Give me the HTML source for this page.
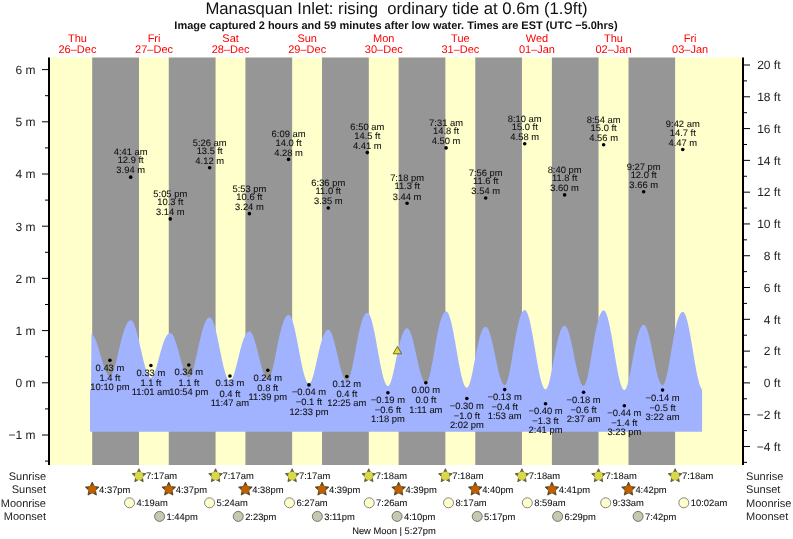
<!DOCTYPE html>
<html><head><meta charset="utf-8"><style>
html,body{margin:0;padding:0;background:#fff;}
svg{display:block;will-change:transform;}
text{font-family:"Liberation Sans",sans-serif;fill:#222;text-rendering:geometricPrecision;}
.title{font-size:16.7px;fill:#111;}
.sub{font-size:11px;font-weight:bold;fill:#111;}
.ax{font-size:12px;fill:#222;}
.day{font-size:11px;fill:#FF0000;}
.tl{font-size:9.4px;fill:#111;stroke:#111;stroke-width:0.08px;}
.rl{font-size:11px;fill:#222;}
.bt{font-size:9.4px;fill:#111;stroke:#111;stroke-width:0.08px;}
</style></head><body>
<svg width="793" height="539" viewBox="0 0 793 539">
<text x="396.5" y="14.2" text-anchor="middle" class="title">Manasquan Inlet: rising  ordinary tide at 0.6m (1.9ft)</text>
<text x="396" y="28.5" text-anchor="middle" class="sub">Image captured 2 hours and 59 minutes after low water. Times are EST (UTC −5.0hrs)</text>
<rect x="50.0" y="57.5" width="692.0" height="407.5" fill="#FFFFCC"/>
<rect x="92.20" y="57.5" width="46.80" height="407.5" fill="#969696"/>
<rect x="168.78" y="57.5" width="46.80" height="407.5" fill="#969696"/>
<rect x="245.41" y="57.5" width="46.75" height="407.5" fill="#969696"/>
<rect x="322.04" y="57.5" width="46.75" height="407.5" fill="#969696"/>
<rect x="398.62" y="57.5" width="46.75" height="407.5" fill="#969696"/>
<rect x="475.26" y="57.5" width="46.69" height="407.5" fill="#969696"/>
<rect x="551.89" y="57.5" width="46.64" height="407.5" fill="#969696"/>
<rect x="628.52" y="57.5" width="46.59" height="407.5" fill="#969696"/>
<path d="M90.00,431.80 L90.00,390.16 L90.50,390.16 L91.00,390.16 L91.50,334.03 L92.00,334.24 L92.50,334.59 L93.00,335.09 L93.50,335.72 L94.00,336.49 L94.50,337.39 L95.00,338.40 L95.50,339.54 L96.00,340.78 L96.50,342.12 L97.00,343.55 L97.50,345.05 L98.00,346.63 L98.50,348.27 L99.00,349.95 L99.50,351.67 L100.00,353.41 L100.50,355.17 L101.00,356.92 L101.50,358.66 L102.00,360.37 L102.50,362.05 L103.00,363.68 L103.50,365.25 L104.00,366.75 L104.50,368.17 L105.00,369.50 L105.50,370.73 L106.00,371.85 L106.50,372.85 L107.00,373.73 L107.50,374.48 L108.00,375.10 L108.50,375.58 L109.00,375.91 L109.50,376.11 L110.00,376.15 L110.50,376.01 L111.00,375.65 L111.50,375.08 L112.00,374.32 L112.50,373.36 L113.00,372.21 L113.50,370.90 L114.00,369.42 L114.50,367.80 L115.00,366.05 L115.50,364.19 L116.00,362.23 L116.50,360.20 L117.00,358.10 L117.50,355.96 L118.00,353.79 L118.50,351.60 L119.00,349.42 L119.50,347.26 L120.00,345.13 L120.50,343.04 L121.00,341.00 L121.50,339.03 L122.00,337.13 L122.50,335.31 L123.00,333.58 L123.50,331.94 L124.00,330.40 L124.50,328.96 L125.00,327.63 L125.50,326.40 L126.00,325.28 L126.50,324.28 L127.00,323.38 L127.50,322.60 L128.00,321.93 L128.50,321.37 L129.00,320.93 L129.50,320.60 L130.00,320.39 L130.50,320.28 L131.00,320.31 L131.50,320.50 L132.00,320.86 L132.50,321.39 L133.00,322.09 L133.50,322.95 L134.00,323.97 L134.50,325.14 L135.00,326.45 L135.50,327.90 L136.00,329.48 L136.50,331.18 L137.00,332.98 L137.50,334.88 L138.00,336.87 L138.50,338.92 L139.00,341.04 L139.50,343.21 L140.00,345.42 L140.50,347.64 L141.00,349.87 L141.50,352.10 L142.00,354.31 L142.50,356.49 L143.00,358.62 L143.50,360.69 L144.00,362.70 L144.50,364.62 L145.00,366.44 L145.50,368.16 L146.00,369.77 L146.50,371.25 L147.00,372.60 L147.50,373.80 L148.00,374.85 L148.50,375.75 L149.00,376.49 L149.50,377.06 L150.00,377.46 L150.50,377.69 L151.00,377.74 L151.50,377.61 L152.00,377.28 L152.50,376.76 L153.00,376.06 L153.50,375.17 L154.00,374.13 L154.50,372.93 L155.00,371.59 L155.50,370.12 L156.00,368.55 L156.50,366.88 L157.00,365.14 L157.50,363.34 L158.00,361.49 L158.50,359.63 L159.00,357.75 L159.50,355.88 L160.00,354.02 L160.50,352.20 L161.00,350.43 L161.50,348.70 L162.00,347.04 L162.50,345.46 L163.00,343.95 L163.50,342.53 L164.00,341.19 L164.50,339.95 L165.00,338.81 L165.50,337.77 L166.00,336.82 L166.50,335.98 L167.00,335.25 L167.50,334.62 L168.00,334.09 L168.50,333.67 L169.00,333.35 L169.50,333.13 L170.00,333.03 L170.50,333.03 L171.00,333.18 L171.50,333.49 L172.00,333.96 L172.50,334.58 L173.00,335.35 L173.50,336.26 L174.00,337.31 L174.50,338.49 L175.00,339.78 L175.50,341.19 L176.00,342.70 L176.50,344.30 L177.00,345.98 L177.50,347.72 L178.00,349.52 L178.50,351.36 L179.00,353.23 L179.50,355.12 L180.00,357.00 L180.50,358.87 L181.00,360.72 L181.50,362.53 L182.00,364.28 L182.50,365.98 L183.00,367.59 L183.50,369.12 L184.00,370.55 L184.50,371.87 L185.00,373.07 L185.50,374.14 L186.00,375.08 L186.50,375.88 L187.00,376.53 L187.50,377.03 L188.00,377.37 L188.50,377.55 L189.00,377.57 L189.50,377.38 L190.00,376.96 L190.50,376.32 L191.00,375.47 L191.50,374.40 L192.00,373.15 L192.50,371.71 L193.00,370.10 L193.50,368.34 L194.00,366.44 L194.50,364.43 L195.00,362.31 L195.50,360.12 L196.00,357.86 L196.50,355.55 L197.00,353.22 L197.50,350.87 L198.00,348.53 L198.50,346.21 L199.00,343.93 L199.50,341.69 L200.00,339.51 L200.50,337.40 L201.00,335.36 L201.50,333.42 L202.00,331.57 L202.50,329.82 L203.00,328.17 L203.50,326.64 L204.00,325.21 L204.50,323.90 L205.00,322.71 L205.50,321.64 L206.00,320.69 L206.50,319.86 L207.00,319.15 L207.50,318.56 L208.00,318.09 L208.50,317.74 L209.00,317.52 L209.50,317.42 L210.00,317.45 L210.50,317.67 L211.00,318.08 L211.50,318.67 L212.00,319.45 L212.50,320.41 L213.00,321.54 L213.50,322.83 L214.00,324.29 L214.50,325.89 L215.00,327.63 L215.50,329.51 L216.00,331.50 L216.50,333.59 L217.00,335.78 L217.50,338.06 L218.00,340.39 L218.50,342.78 L219.00,345.21 L219.50,347.66 L220.00,350.13 L220.50,352.58 L221.00,355.02 L221.50,357.42 L222.00,359.77 L222.50,362.05 L223.00,364.26 L223.50,366.38 L224.00,368.40 L224.50,370.30 L225.00,372.07 L225.50,373.71 L226.00,375.20 L226.50,376.53 L227.00,377.69 L227.50,378.69 L228.00,379.51 L228.50,380.15 L229.00,380.60 L229.50,380.86 L230.00,380.93 L230.50,380.79 L231.00,380.44 L231.50,379.89 L232.00,379.12 L232.50,378.17 L233.00,377.03 L233.50,375.72 L234.00,374.26 L234.50,372.66 L235.00,370.94 L235.50,369.11 L236.00,367.20 L236.50,365.23 L237.00,363.21 L237.50,361.15 L238.00,359.09 L238.50,357.02 L239.00,354.98 L239.50,352.97 L240.00,351.01 L240.50,349.10 L241.00,347.26 L241.50,345.50 L242.00,343.82 L242.50,342.24 L243.00,340.75 L243.50,339.37 L244.00,338.09 L244.50,336.91 L245.00,335.85 L245.50,334.90 L246.00,334.07 L246.50,333.35 L247.00,332.74 L247.50,332.25 L248.00,331.87 L248.50,331.61 L249.00,331.46 L249.50,331.42 L250.00,331.54 L250.50,331.84 L251.00,332.30 L251.50,332.94 L252.00,333.73 L252.50,334.69 L253.00,335.79 L253.50,337.03 L254.00,338.41 L254.50,339.91 L255.00,341.53 L255.50,343.24 L256.00,345.04 L256.50,346.92 L257.00,348.85 L257.50,350.84 L258.00,352.85 L258.50,354.89 L259.00,356.93 L259.50,358.95 L260.00,360.95 L260.50,362.91 L261.00,364.81 L261.50,366.64 L262.00,368.39 L262.50,370.05 L263.00,371.60 L263.50,373.03 L264.00,374.33 L264.50,375.49 L265.00,376.50 L265.50,377.36 L266.00,378.06 L266.50,378.59 L267.00,378.96 L267.50,379.15 L268.00,379.16 L268.50,378.94 L269.00,378.47 L269.50,377.77 L270.00,376.83 L270.50,375.67 L271.00,374.31 L271.50,372.74 L272.00,371.00 L272.50,369.09 L273.00,367.04 L273.50,364.86 L274.00,362.58 L274.50,360.21 L275.00,357.78 L275.50,355.29 L276.00,352.78 L276.50,350.26 L277.00,347.75 L277.50,345.26 L278.00,342.82 L278.50,340.42 L279.00,338.09 L279.50,335.84 L280.00,333.67 L280.50,331.60 L281.00,329.63 L281.50,327.77 L282.00,326.02 L282.50,324.40 L283.00,322.90 L283.50,321.52 L284.00,320.27 L284.50,319.14 L285.00,318.15 L285.50,317.29 L286.00,316.56 L286.50,315.95 L287.00,315.48 L287.50,315.15 L288.00,314.94 L288.50,314.86 L289.00,314.95 L289.50,315.24 L290.00,315.72 L290.50,316.41 L291.00,317.29 L291.50,318.36 L292.00,319.62 L292.50,321.05 L293.00,322.64 L293.50,324.39 L294.00,326.29 L294.50,328.33 L295.00,330.49 L295.50,332.76 L296.00,335.12 L296.50,337.58 L297.00,340.10 L297.50,342.67 L298.00,345.28 L298.50,347.92 L299.00,350.56 L299.50,353.20 L300.00,355.81 L300.50,358.39 L301.00,360.91 L301.50,363.36 L302.00,365.73 L302.50,368.00 L303.00,370.16 L303.50,372.19 L304.00,374.09 L304.50,375.85 L305.00,377.44 L305.50,378.87 L306.00,380.13 L306.50,381.20 L307.00,382.08 L307.50,382.77 L308.00,383.26 L308.50,383.55 L309.00,383.64 L309.50,383.50 L310.00,383.12 L310.50,382.52 L311.00,381.68 L311.50,380.64 L312.00,379.39 L312.50,377.95 L313.00,376.34 L313.50,374.58 L314.00,372.68 L314.50,370.67 L315.00,368.57 L315.50,366.40 L316.00,364.17 L316.50,361.91 L317.00,359.64 L317.50,357.38 L318.00,355.13 L318.50,352.93 L319.00,350.78 L319.50,348.69 L320.00,346.68 L320.50,344.75 L321.00,342.93 L321.50,341.20 L322.00,339.58 L322.50,338.08 L323.00,336.69 L323.50,335.43 L324.00,334.29 L324.50,333.27 L325.00,332.38 L325.50,331.61 L326.00,330.97 L326.50,330.46 L327.00,330.08 L327.50,329.82 L328.00,329.69 L328.50,329.69 L329.00,329.87 L329.50,330.23 L330.00,330.77 L330.50,331.48 L331.00,332.37 L331.50,333.42 L332.00,334.63 L332.50,335.99 L333.00,337.49 L333.50,339.11 L334.00,340.86 L334.50,342.70 L335.00,344.64 L335.50,346.65 L336.00,348.73 L336.50,350.85 L337.00,353.00 L337.50,355.18 L338.00,357.35 L338.50,359.51 L339.00,361.64 L339.50,363.73 L340.00,365.75 L340.50,367.70 L341.00,369.57 L341.50,371.33 L342.00,372.98 L342.50,374.50 L343.00,375.88 L343.50,377.12 L344.00,378.20 L344.50,379.12 L345.00,379.87 L345.50,380.44 L346.00,380.84 L346.50,381.05 L347.00,381.07 L347.50,380.85 L348.00,380.35 L348.50,379.60 L349.00,378.59 L349.50,377.34 L350.00,375.86 L350.50,374.18 L351.00,372.29 L351.50,370.23 L352.00,368.01 L352.50,365.66 L353.00,363.19 L353.50,360.63 L354.00,358.01 L354.50,355.33 L355.00,352.63 L355.50,349.92 L356.00,347.22 L356.50,344.55 L357.00,341.93 L357.50,339.37 L358.00,336.88 L358.50,334.47 L359.00,332.17 L359.50,329.97 L360.00,327.89 L360.50,325.92 L361.00,324.08 L361.50,322.38 L362.00,320.81 L362.50,319.37 L363.00,318.07 L363.50,316.92 L364.00,315.91 L364.50,315.03 L365.00,314.30 L365.50,313.72 L366.00,313.28 L366.50,312.98 L367.00,312.82 L367.50,312.81 L368.00,313.00 L368.50,313.40 L369.00,314.01 L369.50,314.83 L370.00,315.84 L370.50,317.05 L371.00,318.45 L371.50,320.03 L372.00,321.77 L372.50,323.68 L373.00,325.74 L373.50,327.93 L374.00,330.25 L374.50,332.67 L375.00,335.20 L375.50,337.81 L376.00,340.48 L376.50,343.21 L377.00,345.97 L377.50,348.75 L378.00,351.54 L378.50,354.31 L379.00,357.06 L379.50,359.76 L380.00,362.40 L380.50,364.97 L381.00,367.44 L381.50,369.81 L382.00,372.07 L382.50,374.19 L383.00,376.17 L383.50,377.99 L384.00,379.65 L384.50,381.13 L385.00,382.43 L385.50,383.54 L386.00,384.45 L386.50,385.16 L387.00,385.65 L387.50,385.94 L388.00,386.02 L388.50,385.86 L389.00,385.44 L389.50,384.76 L390.00,383.84 L390.50,382.69 L391.00,381.32 L391.50,379.75 L392.00,377.99 L392.50,376.07 L393.00,374.00 L393.50,371.82 L394.00,369.53 L394.50,367.18 L395.00,364.76 L395.50,362.32 L396.00,359.87 L396.50,357.43 L397.00,355.01 L397.50,352.64 L398.00,350.33 L398.50,348.10 L399.00,345.95 L399.50,343.89 L400.00,341.95 L400.50,340.11 L401.00,338.40 L401.50,336.81 L402.00,335.35 L402.50,334.03 L403.00,332.83 L403.50,331.78 L404.00,330.86 L404.50,330.07 L405.00,329.43 L405.50,328.92 L406.00,328.56 L406.50,328.33 L407.00,328.24 L407.50,328.30 L408.00,328.56 L408.50,329.01 L409.00,329.64 L409.50,330.45 L410.00,331.44 L410.50,332.60 L411.00,333.92 L411.50,335.39 L412.00,337.01 L412.50,338.75 L413.00,340.61 L413.50,342.58 L414.00,344.64 L414.50,346.77 L415.00,348.97 L415.50,351.21 L416.00,353.49 L416.50,355.78 L417.00,358.06 L417.50,360.33 L418.00,362.57 L418.50,364.76 L419.00,366.89 L419.50,368.93 L420.00,370.89 L420.50,372.73 L421.00,374.46 L421.50,376.05 L422.00,377.51 L422.50,378.80 L423.00,379.94 L423.50,380.91 L424.00,381.70 L424.50,382.30 L425.00,382.72 L425.50,382.95 L426.00,382.99 L426.50,382.76 L427.00,382.24 L427.50,381.44 L428.00,380.37 L428.50,379.04 L429.00,377.47 L429.50,375.66 L430.00,373.65 L430.50,371.45 L431.00,369.08 L431.50,366.57 L432.00,363.93 L432.50,361.21 L433.00,358.41 L433.50,355.56 L434.00,352.68 L434.50,349.80 L435.00,346.94 L435.50,344.11 L436.00,341.33 L436.50,338.63 L437.00,336.00 L437.50,333.48 L438.00,331.05 L438.50,328.75 L439.00,326.57 L439.50,324.52 L440.00,322.61 L440.50,320.85 L441.00,319.22 L441.50,317.75 L442.00,316.43 L442.50,315.26 L443.00,314.24 L443.50,313.38 L444.00,312.67 L444.50,312.11 L445.00,311.71 L445.50,311.46 L446.00,311.36 L446.50,311.44 L447.00,311.74 L447.50,312.26 L448.00,312.99 L448.50,313.93 L449.00,315.07 L449.50,316.40 L450.00,317.93 L450.50,319.64 L451.00,321.52 L451.50,323.55 L452.00,325.74 L452.50,328.06 L453.00,330.51 L453.50,333.06 L454.00,335.71 L454.50,338.44 L455.00,341.23 L455.50,344.06 L456.00,346.93 L456.50,349.82 L457.00,352.70 L457.50,355.56 L458.00,358.40 L458.50,361.18 L459.00,363.89 L459.50,366.52 L460.00,369.06 L460.50,371.48 L461.00,373.78 L461.50,375.94 L462.00,377.96 L462.50,379.80 L463.00,381.48 L463.50,382.98 L464.00,384.28 L464.50,385.39 L465.00,386.29 L465.50,386.98 L466.00,387.46 L466.50,387.72 L467.00,387.76 L467.50,387.54 L468.00,387.03 L468.50,386.25 L469.00,385.20 L469.50,383.90 L470.00,382.37 L470.50,380.62 L471.00,378.68 L471.50,376.56 L472.00,374.29 L472.50,371.90 L473.00,369.42 L473.50,366.85 L474.00,364.24 L474.50,361.61 L475.00,358.97 L475.50,356.36 L476.00,353.78 L476.50,351.26 L477.00,348.81 L477.50,346.45 L478.00,344.19 L478.50,342.05 L479.00,340.02 L479.50,338.12 L480.00,336.36 L480.50,334.74 L481.00,333.26 L481.50,331.92 L482.00,330.74 L482.50,329.70 L483.00,328.81 L483.50,328.08 L484.00,327.50 L484.50,327.06 L485.00,326.78 L485.50,326.65 L486.00,326.68 L486.50,326.91 L487.00,327.34 L487.50,327.96 L488.00,328.77 L488.50,329.77 L489.00,330.94 L489.50,332.29 L490.00,333.80 L490.50,335.46 L491.00,337.25 L491.50,339.18 L492.00,341.22 L492.50,343.36 L493.00,345.58 L493.50,347.88 L494.00,350.23 L494.50,352.62 L495.00,355.03 L495.50,357.44 L496.00,359.85 L496.50,362.22 L497.00,364.56 L497.50,366.83 L498.00,369.03 L498.50,371.14 L499.00,373.15 L499.50,375.04 L500.00,376.79 L500.50,378.40 L501.00,379.86 L501.50,381.15 L502.00,382.28 L502.50,383.22 L503.00,383.97 L503.50,384.53 L504.00,384.89 L504.50,385.06 L505.00,385.00 L505.50,384.64 L506.00,383.98 L506.50,383.02 L507.00,381.78 L507.50,380.27 L508.00,378.50 L508.50,376.50 L509.00,374.28 L509.50,371.88 L510.00,369.31 L510.50,366.59 L511.00,363.77 L511.50,360.85 L512.00,357.87 L512.50,354.85 L513.00,351.81 L513.50,348.78 L514.00,345.77 L514.50,342.81 L515.00,339.92 L515.50,337.11 L516.00,334.40 L516.50,331.79 L517.00,329.31 L517.50,326.95 L518.00,324.73 L518.50,322.66 L519.00,320.73 L519.50,318.96 L520.00,317.35 L520.50,315.89 L521.00,314.60 L521.50,313.46 L522.00,312.49 L522.50,311.69 L523.00,311.05 L523.50,310.57 L524.00,310.25 L524.50,310.10 L525.00,310.12 L525.50,310.37 L526.00,310.83 L526.50,311.52 L527.00,312.43 L527.50,313.55 L528.00,314.87 L528.50,316.40 L529.00,318.11 L529.50,320.01 L530.00,322.07 L530.50,324.30 L531.00,326.66 L531.50,329.16 L532.00,331.78 L532.50,334.50 L533.00,337.30 L533.50,340.18 L534.00,343.11 L534.50,346.08 L535.00,349.07 L535.50,352.06 L536.00,355.04 L536.50,357.99 L537.00,360.89 L537.50,363.73 L538.00,366.49 L538.50,369.15 L539.00,371.71 L539.50,374.13 L540.00,376.42 L540.50,378.56 L541.00,380.53 L541.50,382.32 L542.00,383.93 L542.50,385.35 L543.00,386.56 L543.50,387.56 L544.00,388.35 L544.50,388.91 L545.00,389.25 L545.50,389.37 L546.00,389.23 L546.50,388.80 L547.00,388.09 L547.50,387.11 L548.00,385.87 L548.50,384.39 L549.00,382.68 L549.50,380.76 L550.00,378.66 L550.50,376.39 L551.00,373.99 L551.50,371.48 L552.00,368.88 L552.50,366.22 L553.00,363.53 L553.50,360.82 L554.00,358.12 L554.50,355.44 L555.00,352.82 L555.50,350.26 L556.00,347.78 L556.50,345.40 L557.00,343.12 L557.50,340.96 L558.00,338.93 L558.50,337.02 L559.00,335.26 L559.50,333.63 L560.00,332.16 L560.50,330.83 L561.00,329.65 L561.50,328.63 L562.00,327.76 L562.50,327.04 L563.00,326.47 L563.50,326.06 L564.00,325.80 L564.50,325.69 L565.00,325.75 L565.50,326.02 L566.00,326.49 L566.50,327.17 L567.00,328.03 L567.50,329.09 L568.00,330.33 L568.50,331.74 L569.00,333.32 L569.50,335.05 L570.00,336.93 L570.50,338.93 L571.00,341.05 L571.50,343.27 L572.00,345.57 L572.50,347.95 L573.00,350.37 L573.50,352.84 L574.00,355.32 L574.50,357.81 L575.00,360.29 L575.50,362.73 L576.00,365.12 L576.50,367.46 L577.00,369.71 L577.50,371.86 L578.00,373.91 L578.50,375.83 L579.00,377.62 L579.50,379.25 L580.00,380.73 L580.50,382.03 L581.00,383.16 L581.50,384.09 L582.00,384.84 L582.50,385.38 L583.00,385.73 L583.50,385.86 L584.00,385.76 L584.50,385.35 L585.00,384.63 L585.50,383.62 L586.00,382.32 L586.50,380.76 L587.00,378.94 L587.50,376.89 L588.00,374.63 L588.50,372.18 L589.00,369.57 L589.50,366.82 L590.00,363.96 L590.50,361.01 L591.00,358.00 L591.50,354.95 L592.00,351.90 L592.50,348.85 L593.00,345.83 L593.50,342.87 L594.00,339.97 L594.50,337.15 L595.00,334.44 L595.50,331.84 L596.00,329.36 L596.50,327.01 L597.00,324.80 L597.50,322.73 L598.00,320.82 L598.50,319.06 L599.00,317.46 L599.50,316.02 L600.00,314.75 L600.50,313.64 L601.00,312.69 L601.50,311.90 L602.00,311.28 L602.50,310.83 L603.00,310.54 L603.50,310.41 L604.00,310.47 L604.50,310.75 L605.00,311.26 L605.50,311.99 L606.00,312.95 L606.50,314.12 L607.00,315.50 L607.50,317.07 L608.00,318.84 L608.50,320.79 L609.00,322.91 L609.50,325.19 L610.00,327.61 L610.50,330.16 L611.00,332.82 L611.50,335.59 L612.00,338.44 L612.50,341.36 L613.00,344.33 L613.50,347.33 L614.00,350.35 L614.50,353.37 L615.00,356.37 L615.50,359.33 L616.00,362.25 L616.50,365.09 L617.00,367.85 L617.50,370.50 L618.00,373.04 L618.50,375.45 L619.00,377.71 L619.50,379.81 L620.00,381.74 L620.50,383.49 L621.00,385.05 L621.50,386.41 L622.00,387.56 L622.50,388.50 L623.00,389.21 L623.50,389.70 L624.00,389.96 L624.50,389.99 L625.00,389.74 L625.50,389.21 L626.00,388.40 L626.50,387.32 L627.00,385.99 L627.50,384.42 L628.00,382.63 L628.50,380.64 L629.00,378.47 L629.50,376.14 L630.00,373.69 L630.50,371.13 L631.00,368.49 L631.50,365.79 L632.00,363.06 L632.50,360.33 L633.00,357.60 L633.50,354.90 L634.00,352.25 L634.50,349.68 L635.00,347.18 L635.50,344.78 L636.00,342.48 L636.50,340.30 L637.00,338.25 L637.50,336.33 L638.00,334.54 L638.50,332.90 L639.00,331.41 L639.50,330.06 L640.00,328.86 L640.50,327.82 L641.00,326.92 L641.50,326.18 L642.00,325.59 L642.50,325.16 L643.00,324.87 L643.50,324.74 L644.00,324.78 L644.50,325.02 L645.00,325.46 L645.50,326.11 L646.00,326.96 L646.50,328.01 L647.00,329.24 L647.50,330.65 L648.00,332.23 L648.50,333.96 L649.00,335.84 L649.50,337.86 L650.00,339.99 L650.50,342.22 L651.00,344.55 L651.50,346.94 L652.00,349.39 L652.50,351.88 L653.00,354.39 L653.50,356.91 L654.00,359.41 L654.50,361.88 L655.00,364.31 L655.50,366.67 L656.00,368.94 L656.50,371.13 L657.00,373.20 L657.50,375.14 L658.00,376.94 L658.50,378.60 L659.00,380.09 L659.50,381.40 L660.00,382.53 L660.50,383.48 L661.00,384.22 L661.50,384.76 L662.00,385.10 L662.50,385.23 L663.00,385.11 L663.50,384.70 L664.00,384.00 L664.50,383.02 L665.00,381.76 L665.50,380.25 L666.00,378.49 L666.50,376.52 L667.00,374.34 L667.50,371.98 L668.00,369.46 L668.50,366.81 L669.00,364.05 L669.50,361.21 L670.00,358.31 L670.50,355.37 L671.00,352.42 L671.50,349.48 L672.00,346.57 L672.50,343.70 L673.00,340.89 L673.50,338.17 L674.00,335.54 L674.50,333.01 L675.00,330.60 L675.50,328.32 L676.00,326.16 L676.50,324.15 L677.00,322.28 L677.50,320.55 L678.00,318.98 L678.50,317.57 L679.00,316.30 L679.50,315.20 L680.00,314.25 L680.50,313.45 L681.00,312.82 L681.50,312.34 L682.00,312.02 L682.50,311.86 L683.00,311.86 L683.50,312.09 L684.00,312.55 L684.50,313.23 L685.00,314.14 L685.50,315.27 L686.00,316.61 L686.50,318.16 L687.00,319.90 L687.50,321.83 L688.00,323.93 L688.50,326.19 L689.00,328.60 L689.50,331.14 L690.00,333.80 L690.50,336.56 L691.00,339.41 L691.50,342.32 L692.00,345.29 L692.50,348.29 L693.00,351.31 L693.50,354.33 L694.00,357.33 L694.50,360.28 L695.00,363.19 L695.50,366.02 L696.00,368.76 L696.50,371.40 L697.00,373.91 L697.50,376.29 L698.00,378.52 L698.50,380.59 L699.00,382.47 L699.50,384.18 L700.00,385.68 L700.50,386.98 L701.00,388.06 L701.50,388.93 L702.00,389.57 L702.10,389.67 L702.10,431.80 Z" fill="#A1B2FF"/>
<line x1="49" y1="57.5" x2="49" y2="465.0" stroke="#000" stroke-width="2"/>
<line x1="743" y1="57.5" x2="743" y2="465.0" stroke="#000" stroke-width="2"/>
<line x1="42" y1="435.00" x2="48" y2="435.00" stroke="#000" stroke-width="1"/>
<line x1="42" y1="382.80" x2="48" y2="382.80" stroke="#000" stroke-width="1"/>
<line x1="42" y1="330.60" x2="48" y2="330.60" stroke="#000" stroke-width="1"/>
<line x1="42" y1="278.40" x2="48" y2="278.40" stroke="#000" stroke-width="1"/>
<line x1="42" y1="226.20" x2="48" y2="226.20" stroke="#000" stroke-width="1"/>
<line x1="42" y1="174.00" x2="48" y2="174.00" stroke="#000" stroke-width="1"/>
<line x1="42" y1="121.80" x2="48" y2="121.80" stroke="#000" stroke-width="1"/>
<line x1="42" y1="69.60" x2="48" y2="69.60" stroke="#000" stroke-width="1"/>
<line x1="45" y1="461.10" x2="48" y2="461.10" stroke="#000" stroke-width="1"/>
<line x1="45" y1="408.90" x2="48" y2="408.90" stroke="#000" stroke-width="1"/>
<line x1="45" y1="356.70" x2="48" y2="356.70" stroke="#000" stroke-width="1"/>
<line x1="45" y1="304.50" x2="48" y2="304.50" stroke="#000" stroke-width="1"/>
<line x1="45" y1="252.30" x2="48" y2="252.30" stroke="#000" stroke-width="1"/>
<line x1="45" y1="200.10" x2="48" y2="200.10" stroke="#000" stroke-width="1"/>
<line x1="45" y1="147.90" x2="48" y2="147.90" stroke="#000" stroke-width="1"/>
<line x1="45" y1="95.70" x2="48" y2="95.70" stroke="#000" stroke-width="1"/>
<line x1="744" y1="462.38" x2="747" y2="462.38" stroke="#000" stroke-width="1"/>
<line x1="744" y1="446.48" x2="750" y2="446.48" stroke="#000" stroke-width="1"/>
<line x1="744" y1="430.58" x2="747" y2="430.58" stroke="#000" stroke-width="1"/>
<line x1="744" y1="414.69" x2="750" y2="414.69" stroke="#000" stroke-width="1"/>
<line x1="744" y1="398.79" x2="747" y2="398.79" stroke="#000" stroke-width="1"/>
<line x1="744" y1="382.90" x2="750" y2="382.90" stroke="#000" stroke-width="1"/>
<line x1="744" y1="367.00" x2="747" y2="367.00" stroke="#000" stroke-width="1"/>
<line x1="744" y1="351.11" x2="750" y2="351.11" stroke="#000" stroke-width="1"/>
<line x1="744" y1="335.21" x2="747" y2="335.21" stroke="#000" stroke-width="1"/>
<line x1="744" y1="319.32" x2="750" y2="319.32" stroke="#000" stroke-width="1"/>
<line x1="744" y1="303.42" x2="747" y2="303.42" stroke="#000" stroke-width="1"/>
<line x1="744" y1="287.53" x2="750" y2="287.53" stroke="#000" stroke-width="1"/>
<line x1="744" y1="271.63" x2="747" y2="271.63" stroke="#000" stroke-width="1"/>
<line x1="744" y1="255.74" x2="750" y2="255.74" stroke="#000" stroke-width="1"/>
<line x1="744" y1="239.84" x2="747" y2="239.84" stroke="#000" stroke-width="1"/>
<line x1="744" y1="223.95" x2="750" y2="223.95" stroke="#000" stroke-width="1"/>
<line x1="744" y1="208.05" x2="747" y2="208.05" stroke="#000" stroke-width="1"/>
<line x1="744" y1="192.16" x2="750" y2="192.16" stroke="#000" stroke-width="1"/>
<line x1="744" y1="176.26" x2="747" y2="176.26" stroke="#000" stroke-width="1"/>
<line x1="744" y1="160.37" x2="750" y2="160.37" stroke="#000" stroke-width="1"/>
<line x1="744" y1="144.47" x2="747" y2="144.47" stroke="#000" stroke-width="1"/>
<line x1="744" y1="128.58" x2="750" y2="128.58" stroke="#000" stroke-width="1"/>
<line x1="744" y1="112.69" x2="747" y2="112.69" stroke="#000" stroke-width="1"/>
<line x1="744" y1="96.79" x2="750" y2="96.79" stroke="#000" stroke-width="1"/>
<line x1="744" y1="80.89" x2="747" y2="80.89" stroke="#000" stroke-width="1"/>
<line x1="744" y1="65.00" x2="750" y2="65.00" stroke="#000" stroke-width="1"/>
<circle cx="109.91" cy="360.35" r="1.8" fill="#000"/>
<circle cx="130.70" cy="177.13" r="1.8" fill="#000"/>
<circle cx="150.91" cy="365.57" r="1.8" fill="#000"/>
<circle cx="170.27" cy="218.89" r="1.8" fill="#000"/>
<circle cx="188.83" cy="365.05" r="1.8" fill="#000"/>
<circle cx="209.68" cy="167.74" r="1.8" fill="#000"/>
<circle cx="229.94" cy="376.01" r="1.8" fill="#000"/>
<circle cx="249.40" cy="213.67" r="1.8" fill="#000"/>
<circle cx="267.80" cy="370.27" r="1.8" fill="#000"/>
<circle cx="288.54" cy="159.38" r="1.8" fill="#000"/>
<circle cx="308.96" cy="384.89" r="1.8" fill="#000"/>
<circle cx="328.27" cy="207.93" r="1.8" fill="#000"/>
<circle cx="346.83" cy="376.54" r="1.8" fill="#000"/>
<circle cx="367.30" cy="152.60" r="1.8" fill="#000"/>
<circle cx="387.93" cy="392.72" r="1.8" fill="#000"/>
<circle cx="407.08" cy="203.23" r="1.8" fill="#000"/>
<circle cx="425.85" cy="382.80" r="1.8" fill="#000"/>
<circle cx="446.06" cy="147.90" r="1.8" fill="#000"/>
<circle cx="466.85" cy="398.46" r="1.8" fill="#000"/>
<circle cx="485.68" cy="198.01" r="1.8" fill="#000"/>
<circle cx="504.66" cy="389.59" r="1.8" fill="#000"/>
<circle cx="524.71" cy="143.72" r="1.8" fill="#000"/>
<circle cx="545.51" cy="403.68" r="1.8" fill="#000"/>
<circle cx="564.60" cy="194.88" r="1.8" fill="#000"/>
<circle cx="583.58" cy="392.20" r="1.8" fill="#000"/>
<circle cx="603.63" cy="144.77" r="1.8" fill="#000"/>
<circle cx="624.32" cy="405.77" r="1.8" fill="#000"/>
<circle cx="643.68" cy="191.75" r="1.8" fill="#000"/>
<circle cx="662.56" cy="390.11" r="1.8" fill="#000"/>
<circle cx="682.76" cy="149.47" r="1.8" fill="#000"/>
<text x="109.91" y="370.75" text-anchor="middle" class="tl">0.43 m</text>
<text x="109.91" y="380.95" text-anchor="middle" class="tl">1.4 ft</text>
<text x="109.91" y="390.05" text-anchor="middle" class="tl">10:10 pm</text>
<text x="130.70" y="155.01" text-anchor="middle" class="tl">4:41 am</text>
<text x="130.70" y="163.39" text-anchor="middle" class="tl">12.9 ft</text>
<text x="130.70" y="173.49" text-anchor="middle" class="tl">3.94 m</text>
<text x="150.91" y="375.97" text-anchor="middle" class="tl">0.33 m</text>
<text x="150.91" y="386.17" text-anchor="middle" class="tl">1.1 ft</text>
<text x="150.91" y="395.27" text-anchor="middle" class="tl">11:01 am</text>
<text x="170.27" y="196.77" text-anchor="middle" class="tl">5:05 pm</text>
<text x="170.27" y="205.15" text-anchor="middle" class="tl">10.3 ft</text>
<text x="170.27" y="215.25" text-anchor="middle" class="tl">3.14 m</text>
<text x="188.83" y="375.45" text-anchor="middle" class="tl">0.34 m</text>
<text x="188.83" y="385.65" text-anchor="middle" class="tl">1.1 ft</text>
<text x="188.83" y="394.75" text-anchor="middle" class="tl">10:54 pm</text>
<text x="209.68" y="145.62" text-anchor="middle" class="tl">5:26 am</text>
<text x="209.68" y="154.00" text-anchor="middle" class="tl">13.5 ft</text>
<text x="209.68" y="164.10" text-anchor="middle" class="tl">4.12 m</text>
<text x="229.94" y="386.41" text-anchor="middle" class="tl">0.13 m</text>
<text x="229.94" y="396.61" text-anchor="middle" class="tl">0.4 ft</text>
<text x="229.94" y="405.71" text-anchor="middle" class="tl">11:47 am</text>
<text x="249.40" y="191.55" text-anchor="middle" class="tl">5:53 pm</text>
<text x="249.40" y="199.93" text-anchor="middle" class="tl">10.6 ft</text>
<text x="249.40" y="210.03" text-anchor="middle" class="tl">3.24 m</text>
<text x="267.80" y="380.67" text-anchor="middle" class="tl">0.24 m</text>
<text x="267.80" y="390.87" text-anchor="middle" class="tl">0.8 ft</text>
<text x="267.80" y="399.97" text-anchor="middle" class="tl">11:39 pm</text>
<text x="288.54" y="137.26" text-anchor="middle" class="tl">6:09 am</text>
<text x="288.54" y="145.64" text-anchor="middle" class="tl">14.0 ft</text>
<text x="288.54" y="155.74" text-anchor="middle" class="tl">4.28 m</text>
<text x="308.96" y="395.29" text-anchor="middle" class="tl">−0.04 m</text>
<text x="308.96" y="405.49" text-anchor="middle" class="tl">−0.1 ft</text>
<text x="308.96" y="414.59" text-anchor="middle" class="tl">12:33 pm</text>
<text x="328.27" y="185.81" text-anchor="middle" class="tl">6:36 pm</text>
<text x="328.27" y="194.19" text-anchor="middle" class="tl">11.0 ft</text>
<text x="328.27" y="204.29" text-anchor="middle" class="tl">3.35 m</text>
<text x="346.83" y="386.94" text-anchor="middle" class="tl">0.12 m</text>
<text x="346.83" y="397.14" text-anchor="middle" class="tl">0.4 ft</text>
<text x="346.83" y="406.24" text-anchor="middle" class="tl">12:25 am</text>
<text x="367.30" y="130.48" text-anchor="middle" class="tl">6:50 am</text>
<text x="367.30" y="138.86" text-anchor="middle" class="tl">14.5 ft</text>
<text x="367.30" y="148.96" text-anchor="middle" class="tl">4.41 m</text>
<text x="387.93" y="403.12" text-anchor="middle" class="tl">−0.19 m</text>
<text x="387.93" y="413.32" text-anchor="middle" class="tl">−0.6 ft</text>
<text x="387.93" y="422.42" text-anchor="middle" class="tl">1:18 pm</text>
<text x="407.08" y="181.11" text-anchor="middle" class="tl">7:18 pm</text>
<text x="407.08" y="189.49" text-anchor="middle" class="tl">11.3 ft</text>
<text x="407.08" y="199.59" text-anchor="middle" class="tl">3.44 m</text>
<text x="425.85" y="393.20" text-anchor="middle" class="tl">0.00 m</text>
<text x="425.85" y="403.40" text-anchor="middle" class="tl">0.0 ft</text>
<text x="425.85" y="412.50" text-anchor="middle" class="tl">1:11 am</text>
<text x="446.06" y="125.78" text-anchor="middle" class="tl">7:31 am</text>
<text x="446.06" y="134.16" text-anchor="middle" class="tl">14.8 ft</text>
<text x="446.06" y="144.26" text-anchor="middle" class="tl">4.50 m</text>
<text x="466.85" y="408.86" text-anchor="middle" class="tl">−0.30 m</text>
<text x="466.85" y="419.06" text-anchor="middle" class="tl">−1.0 ft</text>
<text x="466.85" y="428.16" text-anchor="middle" class="tl">2:02 pm</text>
<text x="485.68" y="175.89" text-anchor="middle" class="tl">7:56 pm</text>
<text x="485.68" y="184.27" text-anchor="middle" class="tl">11.6 ft</text>
<text x="485.68" y="194.37" text-anchor="middle" class="tl">3.54 m</text>
<text x="504.66" y="399.99" text-anchor="middle" class="tl">−0.13 m</text>
<text x="504.66" y="410.19" text-anchor="middle" class="tl">−0.4 ft</text>
<text x="504.66" y="419.29" text-anchor="middle" class="tl">1:53 am</text>
<text x="524.71" y="121.60" text-anchor="middle" class="tl">8:10 am</text>
<text x="524.71" y="129.98" text-anchor="middle" class="tl">15.0 ft</text>
<text x="524.71" y="140.08" text-anchor="middle" class="tl">4.58 m</text>
<text x="545.51" y="414.08" text-anchor="middle" class="tl">−0.40 m</text>
<text x="545.51" y="424.28" text-anchor="middle" class="tl">−1.3 ft</text>
<text x="545.51" y="433.38" text-anchor="middle" class="tl">2:41 pm</text>
<text x="564.60" y="172.76" text-anchor="middle" class="tl">8:40 pm</text>
<text x="564.60" y="181.14" text-anchor="middle" class="tl">11.8 ft</text>
<text x="564.60" y="191.24" text-anchor="middle" class="tl">3.60 m</text>
<text x="583.58" y="402.60" text-anchor="middle" class="tl">−0.18 m</text>
<text x="583.58" y="412.80" text-anchor="middle" class="tl">−0.6 ft</text>
<text x="583.58" y="421.90" text-anchor="middle" class="tl">2:37 am</text>
<text x="603.63" y="122.65" text-anchor="middle" class="tl">8:54 am</text>
<text x="603.63" y="131.03" text-anchor="middle" class="tl">15.0 ft</text>
<text x="603.63" y="141.13" text-anchor="middle" class="tl">4.56 m</text>
<text x="624.32" y="416.17" text-anchor="middle" class="tl">−0.44 m</text>
<text x="624.32" y="426.37" text-anchor="middle" class="tl">−1.4 ft</text>
<text x="624.32" y="435.47" text-anchor="middle" class="tl">3:23 pm</text>
<text x="643.68" y="169.63" text-anchor="middle" class="tl">9:27 pm</text>
<text x="643.68" y="178.01" text-anchor="middle" class="tl">12.0 ft</text>
<text x="643.68" y="188.11" text-anchor="middle" class="tl">3.66 m</text>
<text x="662.56" y="400.51" text-anchor="middle" class="tl">−0.14 m</text>
<text x="662.56" y="410.71" text-anchor="middle" class="tl">−0.5 ft</text>
<text x="662.56" y="419.81" text-anchor="middle" class="tl">3:22 am</text>
<text x="682.76" y="127.35" text-anchor="middle" class="tl">9:42 am</text>
<text x="682.76" y="135.73" text-anchor="middle" class="tl">14.7 ft</text>
<text x="682.76" y="145.83" text-anchor="middle" class="tl">4.47 m</text>
<polygon points="393.2,353.8 397.4,346.4 401.7,353.8" fill="#DCDC40" stroke="#5a4a10" stroke-width="0.8"/>
<text x="35.5" y="439.30" text-anchor="end" class="ax">−1 m</text>
<text x="35.5" y="387.10" text-anchor="end" class="ax">0 m</text>
<text x="35.5" y="334.90" text-anchor="end" class="ax">1 m</text>
<text x="35.5" y="282.70" text-anchor="end" class="ax">2 m</text>
<text x="35.5" y="230.50" text-anchor="end" class="ax">3 m</text>
<text x="35.5" y="178.30" text-anchor="end" class="ax">4 m</text>
<text x="35.5" y="126.10" text-anchor="end" class="ax">5 m</text>
<text x="35.5" y="73.90" text-anchor="end" class="ax">6 m</text>
<text x="780.5" y="450.78" text-anchor="end" class="ax">−4 ft</text>
<text x="780.5" y="418.99" text-anchor="end" class="ax">−2 ft</text>
<text x="780.5" y="387.20" text-anchor="end" class="ax">0 ft</text>
<text x="780.5" y="355.41" text-anchor="end" class="ax">2 ft</text>
<text x="780.5" y="323.62" text-anchor="end" class="ax">4 ft</text>
<text x="780.5" y="291.83" text-anchor="end" class="ax">6 ft</text>
<text x="780.5" y="260.04" text-anchor="end" class="ax">8 ft</text>
<text x="780.5" y="228.25" text-anchor="end" class="ax">10 ft</text>
<text x="780.5" y="196.46" text-anchor="end" class="ax">12 ft</text>
<text x="780.5" y="164.67" text-anchor="end" class="ax">14 ft</text>
<text x="780.5" y="132.88" text-anchor="end" class="ax">16 ft</text>
<text x="780.5" y="101.09" text-anchor="end" class="ax">18 ft</text>
<text x="780.5" y="69.30" text-anchor="end" class="ax">20 ft</text>
<text x="77.47" y="41.6" text-anchor="middle" class="day">Thu</text>
<text x="77.47" y="52.8" text-anchor="middle" class="day">26–Dec</text>
<text x="154.05" y="41.6" text-anchor="middle" class="day">Fri</text>
<text x="154.05" y="52.8" text-anchor="middle" class="day">27–Dec</text>
<text x="230.63" y="41.6" text-anchor="middle" class="day">Sat</text>
<text x="230.63" y="52.8" text-anchor="middle" class="day">28–Dec</text>
<text x="307.21" y="41.6" text-anchor="middle" class="day">Sun</text>
<text x="307.21" y="52.8" text-anchor="middle" class="day">29–Dec</text>
<text x="383.79" y="41.6" text-anchor="middle" class="day">Mon</text>
<text x="383.79" y="52.8" text-anchor="middle" class="day">30–Dec</text>
<text x="460.37" y="41.6" text-anchor="middle" class="day">Tue</text>
<text x="460.37" y="52.8" text-anchor="middle" class="day">31–Dec</text>
<text x="536.94" y="41.6" text-anchor="middle" class="day">Wed</text>
<text x="536.94" y="52.8" text-anchor="middle" class="day">01–Jan</text>
<text x="613.52" y="41.6" text-anchor="middle" class="day">Thu</text>
<text x="613.52" y="52.8" text-anchor="middle" class="day">02–Jan</text>
<text x="690.10" y="41.6" text-anchor="middle" class="day">Fri</text>
<text x="690.10" y="52.8" text-anchor="middle" class="day">03–Jan</text>
<text x="46" y="480.00" text-anchor="end" class="rl">Sunrise</text>
<text x="746.1" y="480.00" class="rl">Sunrise</text>
<text x="46" y="493.40" text-anchor="end" class="rl">Sunset</text>
<text x="746.1" y="493.40" class="rl">Sunset</text>
<text x="46" y="507.00" text-anchor="end" class="rl">Moonrise</text>
<text x="746.1" y="507.00" class="rl">Moonrise</text>
<text x="46" y="520.30" text-anchor="end" class="rl">Moonset</text>
<text x="746.1" y="520.30" class="rl">Moonset</text>
<polygon points="139.00,468.70 141.06,473.07 145.85,473.68 142.33,476.98 143.23,481.72 139.00,479.40 134.77,481.72 135.67,476.98 132.15,473.68 136.94,473.07" fill="#77723c" stroke="#4a4010" stroke-width="0.7"/>
<circle cx="139.00" cy="475.90" r="4.1" fill="#D8D848"/>
<text x="145.90" y="479.30" class="bt">7:17am</text>
<polygon points="215.58,468.70 217.64,473.07 222.43,473.68 218.91,476.98 219.81,481.72 215.58,479.40 211.35,481.72 212.25,476.98 208.73,473.68 213.52,473.07" fill="#77723c" stroke="#4a4010" stroke-width="0.7"/>
<circle cx="215.58" cy="475.90" r="4.1" fill="#D8D848"/>
<text x="222.48" y="479.30" class="bt">7:17am</text>
<polygon points="292.16,468.70 294.21,473.07 299.00,473.68 295.49,476.98 296.39,481.72 292.16,479.40 287.93,481.72 288.83,476.98 285.31,473.68 290.10,473.07" fill="#77723c" stroke="#4a4010" stroke-width="0.7"/>
<circle cx="292.16" cy="475.90" r="4.1" fill="#D8D848"/>
<text x="299.06" y="479.30" class="bt">7:17am</text>
<polygon points="368.79,468.70 370.85,473.07 375.64,473.68 372.12,476.98 373.02,481.72 368.79,479.40 364.56,481.72 365.46,476.98 361.94,473.68 366.73,473.07" fill="#77723c" stroke="#4a4010" stroke-width="0.7"/>
<circle cx="368.79" cy="475.90" r="4.1" fill="#D8D848"/>
<text x="375.69" y="479.30" class="bt">7:18am</text>
<polygon points="445.37,468.70 447.43,473.07 452.22,473.68 448.70,476.98 449.60,481.72 445.37,479.40 441.14,481.72 442.04,476.98 438.52,473.68 443.31,473.07" fill="#77723c" stroke="#4a4010" stroke-width="0.7"/>
<circle cx="445.37" cy="475.90" r="4.1" fill="#D8D848"/>
<text x="452.27" y="479.30" class="bt">7:18am</text>
<polygon points="521.95,468.70 524.01,473.07 528.80,473.68 525.28,476.98 526.18,481.72 521.95,479.40 517.72,481.72 518.62,476.98 515.10,473.68 519.89,473.07" fill="#77723c" stroke="#4a4010" stroke-width="0.7"/>
<circle cx="521.95" cy="475.90" r="4.1" fill="#D8D848"/>
<text x="528.85" y="479.30" class="bt">7:18am</text>
<polygon points="598.53,468.70 600.58,473.07 605.37,473.68 601.86,476.98 602.76,481.72 598.53,479.40 594.30,481.72 595.20,476.98 591.68,473.68 596.47,473.07" fill="#77723c" stroke="#4a4010" stroke-width="0.7"/>
<circle cx="598.53" cy="475.90" r="4.1" fill="#D8D848"/>
<text x="605.43" y="479.30" class="bt">7:18am</text>
<polygon points="675.11,468.70 677.16,473.07 681.95,473.68 678.44,476.98 679.34,481.72 675.11,479.40 670.87,481.72 671.78,476.98 668.26,473.68 673.05,473.07" fill="#77723c" stroke="#4a4010" stroke-width="0.7"/>
<circle cx="675.11" cy="475.90" r="4.1" fill="#D8D848"/>
<text x="682.01" y="479.30" class="bt">7:18am</text>
<polygon points="92.20,482.10 94.26,486.47 99.05,487.08 95.53,490.38 96.43,495.12 92.20,492.80 87.97,495.12 88.87,490.38 85.35,487.08 90.14,486.47" fill="#5e5028" stroke="#3d3010" stroke-width="0.7"/>
<circle cx="92.20" cy="489.30" r="4.1" fill="#BF5F00"/>
<text x="99.10" y="492.70" class="bt">4:37pm</text>
<polygon points="168.78,482.10 170.84,486.47 175.63,487.08 172.11,490.38 173.01,495.12 168.78,492.80 164.55,495.12 165.45,490.38 161.93,487.08 166.72,486.47" fill="#5e5028" stroke="#3d3010" stroke-width="0.7"/>
<circle cx="168.78" cy="489.30" r="4.1" fill="#BF5F00"/>
<text x="175.68" y="492.70" class="bt">4:37pm</text>
<polygon points="245.41,482.10 247.47,486.47 252.26,487.08 248.74,490.38 249.64,495.12 245.41,492.80 241.18,495.12 242.08,490.38 238.56,487.08 243.35,486.47" fill="#5e5028" stroke="#3d3010" stroke-width="0.7"/>
<circle cx="245.41" cy="489.30" r="4.1" fill="#BF5F00"/>
<text x="252.31" y="492.70" class="bt">4:38pm</text>
<polygon points="322.04,482.10 324.10,486.47 328.89,487.08 325.37,490.38 326.28,495.12 322.04,492.80 317.81,495.12 318.72,490.38 315.20,487.08 319.99,486.47" fill="#5e5028" stroke="#3d3010" stroke-width="0.7"/>
<circle cx="322.04" cy="489.30" r="4.1" fill="#BF5F00"/>
<text x="328.94" y="492.70" class="bt">4:39pm</text>
<polygon points="398.62,482.10 400.68,486.47 405.47,487.08 401.95,490.38 402.86,495.12 398.62,492.80 394.39,495.12 395.29,490.38 391.78,487.08 396.57,486.47" fill="#5e5028" stroke="#3d3010" stroke-width="0.7"/>
<circle cx="398.62" cy="489.30" r="4.1" fill="#BF5F00"/>
<text x="405.52" y="492.70" class="bt">4:39pm</text>
<polygon points="475.26,482.10 477.31,486.47 482.10,487.08 478.58,490.38 479.49,495.12 475.26,492.80 471.02,495.12 471.93,490.38 468.41,487.08 473.20,486.47" fill="#5e5028" stroke="#3d3010" stroke-width="0.7"/>
<circle cx="475.26" cy="489.30" r="4.1" fill="#BF5F00"/>
<text x="482.16" y="492.70" class="bt">4:40pm</text>
<polygon points="551.89,482.10 553.95,486.47 558.74,487.08 555.22,490.38 556.12,495.12 551.89,492.80 547.66,495.12 548.56,490.38 545.04,487.08 549.83,486.47" fill="#5e5028" stroke="#3d3010" stroke-width="0.7"/>
<circle cx="551.89" cy="489.30" r="4.1" fill="#BF5F00"/>
<text x="558.79" y="492.70" class="bt">4:41pm</text>
<polygon points="628.52,482.10 630.58,486.47 635.37,487.08 631.85,490.38 632.75,495.12 628.52,492.80 624.29,495.12 625.19,490.38 621.67,487.08 626.46,486.47" fill="#5e5028" stroke="#3d3010" stroke-width="0.7"/>
<circle cx="628.52" cy="489.30" r="4.1" fill="#BF5F00"/>
<text x="635.42" y="492.70" class="bt">4:42pm</text>
<circle cx="129.53" cy="502.80" r="5.0" fill="#FFFFCC" stroke="#777" stroke-width="0.9"/>
<text x="136.43" y="506.20" class="bt">4:19am</text>
<circle cx="209.57" cy="502.80" r="5.0" fill="#FFFFCC" stroke="#777" stroke-width="0.9"/>
<text x="216.47" y="506.20" class="bt">5:24am</text>
<circle cx="289.50" cy="502.80" r="5.0" fill="#FFFFCC" stroke="#777" stroke-width="0.9"/>
<text x="296.40" y="506.20" class="bt">6:27am</text>
<circle cx="369.22" cy="502.80" r="5.0" fill="#FFFFCC" stroke="#777" stroke-width="0.9"/>
<text x="376.12" y="506.20" class="bt">7:26am</text>
<circle cx="448.51" cy="502.80" r="5.0" fill="#FFFFCC" stroke="#777" stroke-width="0.9"/>
<text x="455.41" y="506.20" class="bt">8:17am</text>
<circle cx="527.32" cy="502.80" r="5.0" fill="#FFFFCC" stroke="#777" stroke-width="0.9"/>
<text x="534.22" y="506.20" class="bt">8:59am</text>
<circle cx="605.71" cy="502.80" r="5.0" fill="#FFFFCC" stroke="#777" stroke-width="0.9"/>
<text x="612.61" y="506.20" class="bt">9:33am</text>
<circle cx="683.83" cy="502.80" r="5.0" fill="#FFFFCC" stroke="#777" stroke-width="0.9"/>
<text x="690.73" y="506.20" class="bt">10:02am</text>
<circle cx="159.58" cy="516.40" r="5.0" fill="#C8C8B0" stroke="#666" stroke-width="0.9"/>
<text x="166.48" y="519.80" class="bt">1:44pm</text>
<circle cx="238.23" cy="516.40" r="5.0" fill="#C8C8B0" stroke="#666" stroke-width="0.9"/>
<text x="245.13" y="519.80" class="bt">2:23pm</text>
<circle cx="317.36" cy="516.40" r="5.0" fill="#C8C8B0" stroke="#666" stroke-width="0.9"/>
<text x="324.26" y="519.80" class="bt">3:11pm</text>
<circle cx="397.08" cy="516.40" r="5.0" fill="#C8C8B0" stroke="#666" stroke-width="0.9"/>
<text x="403.98" y="519.80" class="bt">4:10pm</text>
<circle cx="477.22" cy="516.40" r="5.0" fill="#C8C8B0" stroke="#666" stroke-width="0.9"/>
<text x="484.12" y="519.80" class="bt">5:17pm</text>
<circle cx="557.63" cy="516.40" r="5.0" fill="#C8C8B0" stroke="#666" stroke-width="0.9"/>
<text x="564.53" y="519.80" class="bt">6:29pm</text>
<circle cx="638.09" cy="516.40" r="5.0" fill="#C8C8B0" stroke="#666" stroke-width="0.9"/>
<text x="644.99" y="519.80" class="bt">7:42pm</text>
<text x="394" y="533.9" text-anchor="middle" class="bt">New Moon | 5:27pm</text>
</svg>
</body></html>
